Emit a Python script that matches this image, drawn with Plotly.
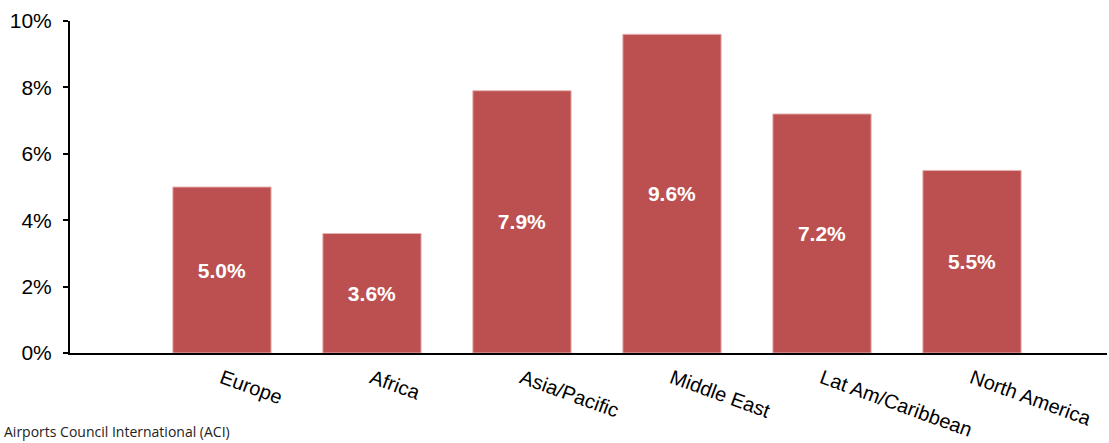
import plotly.graph_objects as go

regions = ["Europe", "Africa", "Asia/Pacific", "Middle East", "Lat Am/Caribbean", "North America"]
growth = [5.0, 3.6, 7.9, 9.6, 7.2, 5.5]
y_ticks = [0, 2, 4, 6, 8, 10]
source_note = "Airports Council International (ACI)"

bar_color = "#BC4F4F"

fig = go.Figure(
    go.Bar(
        x=regions,
        y=growth,
        width=0.655,
        marker=dict(color=bar_color, line=dict(color="#E7B3B3", width=1)),
        text=[f"{v:.1f}%" for v in growth],
        textposition="inside",
        insidetextanchor="middle",
        textangle=0,
        textfont=dict(family="Liberation Sans, Arial, sans-serif", size=21, color="white", weight="bold"),
        hoverinfo="skip",
    )
)

fig.update_layout(
    width=1109,
    height=443,
    margin=dict(l=70, r=2, t=21, b=90),
    plot_bgcolor="white",
    paper_bgcolor="white",
    showlegend=False,
    font=dict(family="Liberation Sans, Arial, sans-serif", size=21, color="black"),
    xaxis=dict(
        type="category",
        range=[-1.013, 5.9],
        showline=True,
        linecolor="black",
        linewidth=2,
        ticks="",
        tickangle=20,
        tickfont=dict(size=20),
        ticklabelstandoff=4,
        automargin=False,
        showgrid=False,
        zeroline=False,
    ),
    yaxis=dict(
        range=[0, 10],
        tickvals=y_ticks,
        ticktext=[f"{t}%" for t in y_ticks],
        showline=True,
        linecolor="black",
        linewidth=2,
        ticks="outside",
        ticklen=5,
        tickwidth=2,
        tickcolor="black",
        tickfont=dict(size=21),
        ticklabelstandoff=7,
        automargin=False,
        showgrid=False,
        zeroline=False,
    ),
    annotations=[
        dict(
            text=source_note,
            xref="paper",
            yref="paper",
            x=-68 / 1037,
            y=-(431 - 353) / 332,
            xanchor="left",
            yanchor="middle",
            showarrow=False,
            font=dict(family="Open Sans, sans-serif", size=14, color="#222"),
        )
    ],
)

fig.write_html("out.html")
